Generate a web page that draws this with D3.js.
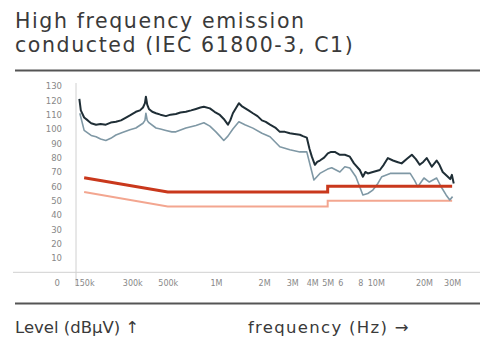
<!DOCTYPE html>
<html><head><meta charset="utf-8">
<script src="https://cdn.jsdelivr.net/npm/d3@7"></script>
<style>
html,body{margin:0;padding:0;background:#fff;}
svg{display:block;}
</style></head>
<body>
<svg id="c" width="480" height="338"></svg>
<script>
// ---- data (frequency in MHz, level in dBµV) ----
const peakFreq = [0.140,0.143,0.150,0.158,0.166,0.178,0.19,0.205,0.22,0.237,0.255,0.274,0.29,0.316,0.335,0.350,0.36,0.365,0.372,0.381,0.40,0.422,0.45,0.487,0.52,0.562,0.60,0.649,0.70,0.75,0.80,0.841,0.917,0.98,1.059,1.12,1.189,1.23,1.277,1.392,1.45,1.518,1.60,1.703,1.82,1.94,2.05,2.18,2.35,2.51,2.70,2.90,3.1,3.35,3.50,3.70,3.85,3.98,4.16,4.30,4.47,4.75,5.01,5.25,5.54,5.96,6.4,6.88,7.3,7.94,8.30,8.6,8.91,9.58,10.6,11.2,11.9,12.8,13.6,14.5,15.6,16.8,17.8,18.8,19.8,20.8,22.4,24.0,25.0,26.2,28.2,29.2,29.9,30.7];
const peakLevel = [121,113,108,106,104,103,103.5,103,104.5,105,106,108,109.5,112,113,115,118,122.5,117,114,112,111,110,109,110,110.5,111.5,112,113,114,115,115.5,114.4,112,109.8,107,103,106,111,118,116,114.6,113,111,109,106,105,103,101,98,98,97,96.5,96,95,94,86,80.7,75,77,78,80,83,84,84,82,82,80.7,76,71.4,66.7,70,69,70,71.4,75,79.7,78,77,76,79,82,79,75,77,79.7,73.7,78,75,70,66.7,65,68,62];
const avgFreq = [0.141,0.150,0.166,0.178,0.19,0.205,0.22,0.237,0.26,0.29,0.316,0.35,0.36,0.365,0.372,0.381,0.422,0.45,0.487,0.53,0.562,0.649,0.75,0.841,0.917,1.0,1.059,1.12,1.189,1.277,1.392,1.518,1.703,1.94,2.18,2.51,2.90,3.35,3.70,3.90,4.10,4.47,5.0,5.3,5.96,6.4,6.88,7.5,8.3,8.91,9.58,10.3,10.9,12.3,14.0,16.4,17.5,18.3,20.0,21.6,24.0,25.6,27.5,29.0,30.2];
const avgLevel = [111,99,95.5,94.6,93,92,93.5,95.8,97.5,99.5,100.7,104,106,111,106,104.4,100.7,100,99,98,98,100.7,102.5,104.4,102,98,95,92,95,100,105,103,100.6,97,94.6,87.6,85.5,84,84,74,64.4,69,72,73,70,73.7,72.8,66.7,54,55,57.4,62,66.7,69,69,69,64,59.7,65.8,63,65.8,59.7,54,50.5,52.8];
const qpLimitFreq  = [0.15,0.5,5,5,30];
const qpLimitLevel = [66,56,56,60,60];
const avLimitFreq  = [0.15,0.5,5,5,30];
const avLimitLevel = [56,46,46,50,50];
const yTicks = [10,20,30,40,50,60,70,80,90,100,110,120,130];
const xTickValues = [0.15,0.3,0.5,1,2,3,4,5,6,8,10,20,30];
const xTickLabels = ["150k","300k","500k","1M","2M","3M","4M","5M","6","8","10M","20M","30M"];
const titleLines = ["High frequency emission","conducted (IEC 61800-3, C1)"];
const yAxisTitle = "Level (dBµV) ↑";
const xAxisTitle = "frequency (Hz) →";

// ---- drawing ----
const svg = d3.select("#c");
const x = d3.scaleLog().domain([0.1334, 41.7]).range([76, 475]);
const y = d3.scaleLinear().domain([0, 130]).range([272.3, 86]);
const FONT = "'DejaVu Sans', sans-serif";

// title
svg.append("g").selectAll("text").data(titleLines).join("text")
  .attr("x", 15).attr("y", (d,i) => 28 + i*24)
  .attr("font-family", FONT).attr("font-size", 20.5).attr("letter-spacing", 1.6).attr("fill", "#3a3a3a")
  .text(d => d);
svg.append("line").attr("x1",15).attr("x2",480).attr("y1",70.5).attr("y2",70.5)
  .attr("stroke","#555").attr("stroke-width",2);

// axes
svg.append("line").attr("x1",13).attr("x2",480).attr("y1",y(0)).attr("y2",y(0))
  .attr("stroke","#d0d0d0").attr("stroke-width",1);
svg.append("line").attr("x1",x.range()[0]).attr("x2",x.range()[0]).attr("y1",83).attr("y2",286)
  .attr("stroke","#d0d0d0").attr("stroke-width",1);

const yAxis = svg.append("g").attr("transform","translate(62,0)")
  .call(d3.axisLeft(y).tickValues(yTicks).tickSize(0).tickPadding(0));
yAxis.select(".domain").remove();
yAxis.selectAll("text").attr("font-family",FONT).attr("font-size",8.5).attr("fill","#888").attr("text-anchor","end");
svg.append("text").attr("x",60).attr("y",y(0)+14).attr("text-anchor","end")
  .attr("font-family",FONT).attr("font-size",8.5).attr("fill","#888").text("0");

const xAxis = svg.append("g").attr("transform",`translate(0,${y(0)})`)
  .call(d3.axisBottom(x).tickValues(xTickValues).tickFormat((d,i)=>xTickLabels[i]).tickSize(0).tickPadding(8));
xAxis.select(".domain").remove();
xAxis.selectAll("text").attr("font-family",FONT).attr("font-size",8).attr("fill","#888");

// series
const line = d3.line().x(d => x(d[0])).y(d => y(d[1]));
const zip = (a,b) => a.map((v,i)=>[v,b[i]]);
svg.append("path").datum(zip(avLimitFreq,avLimitLevel)).attr("d",line)
  .attr("fill","none").attr("stroke","#f3a690").attr("stroke-width",2);
svg.append("path").datum(zip(avgFreq,avgLevel)).attr("d",line)
  .attr("fill","none").attr("stroke","#7f98a5").attr("stroke-width",1.6).attr("stroke-linejoin","round");
svg.append("path").datum(zip(qpLimitFreq,qpLimitLevel)).attr("d",line)
  .attr("fill","none").attr("stroke","#c9381c").attr("stroke-width",3);
svg.append("path").datum(zip(peakFreq,peakLevel)).attr("d",line)
  .attr("fill","none").attr("stroke","#1f2e36").attr("stroke-width",2).attr("stroke-linejoin","round");

// bottom rule and axis titles
svg.append("line").attr("x1",15).attr("x2",480).attr("y1",303.5).attr("y2",303.5)
  .attr("stroke","#555").attr("stroke-width",2);
svg.append("text").attr("x",15).attr("y",333).attr("font-family",FONT).attr("font-size",16.5)
  .attr("fill","#3a3a3a").text(yAxisTitle);
svg.append("text").attr("x",248).attr("y",333).attr("font-family",FONT).attr("font-size",16.5)
  .attr("letter-spacing",1.3).attr("fill","#3a3a3a").text(xAxisTitle);
</script>
</body></html>
